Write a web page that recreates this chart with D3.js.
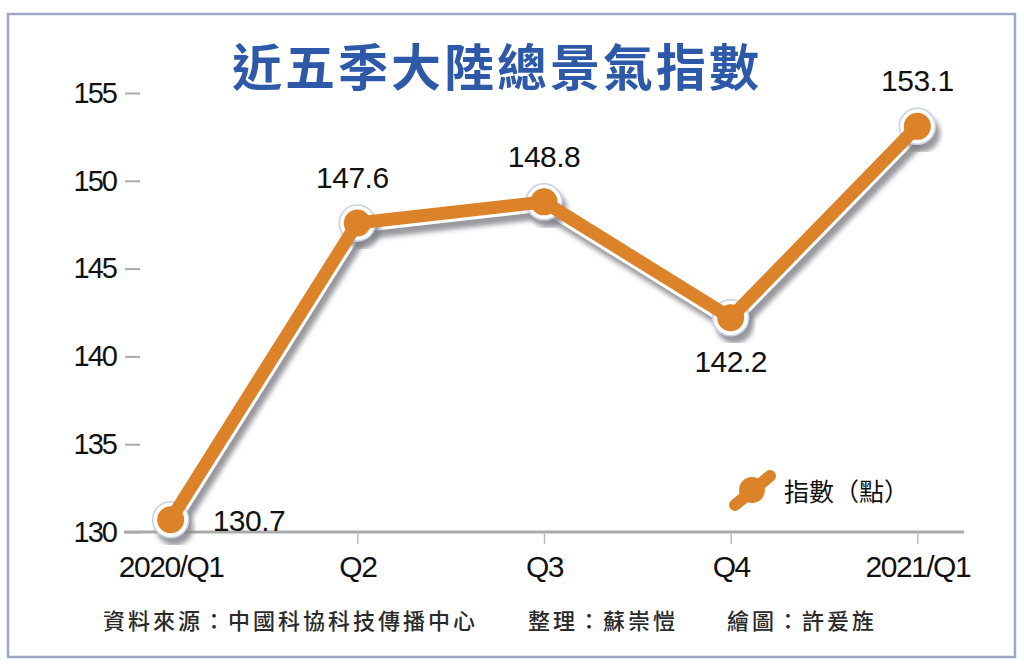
<!DOCTYPE html>
<html lang="zh-Hant">
<head>
<meta charset="UTF-8">
<title>近五季大陸總景氣指數</title>
<style>
    body { margin: 0; background: #fff; }
    svg { display: block; }
    .num { font-family: "Liberation Sans", Arial, sans-serif; fill: #111; }
    .cjk { font-family: "Noto Sans CJK TC", "Noto Sans CJK SC", sans-serif; }
</style>
</head>
<body>
<svg id="chart"></svg>
<script src="https://d3js.org/d3.v7.min.js"></script>
<script>
// 資料
var quarters = ["2020/Q1", "Q2", "Q3", "Q4", "2021/Q1"];
var values = [130.7, 147.6, 148.8, 142.2, 153.1];
var yTicks = [130, 135, 140, 145, 150, 155];
var title = "近五季大陸總景氣指數";
var legendLabel = "指數（點）";
var notes = ["資料來源：中國科協科技傳播中心", "整理：蘇崇愷", "繪圖：許爰旌"];

var width = 1024, height = 667;
var orange = "#dc8228";

var svg = d3.select("#chart").attr("width", width).attr("height", height);

// 陰影
var defs = svg.append("defs");
defs.append("filter").attr("id", "shadow")
    .attr("x", "-20%").attr("y", "-20%").attr("width", "140%").attr("height", "140%")
    .append("feDropShadow")
    .attr("dx", 4).attr("dy", 7).attr("stdDeviation", 2.5)
    .attr("flood-color", "#7d7d85").attr("flood-opacity", 0.8);

// 外框
svg.append("rect")
    .attr("x", 8).attr("y", 14).attr("width", 1007).attr("height", 643)
    .attr("fill", "#fff").attr("stroke", "#9ea6c2").attr("stroke-width", 2.5);

var x = d3.scalePoint().domain(quarters).range([124, 964]).padding(0.25);
var y = d3.scaleLinear().domain([130, 155]).range([532, 93]);

// 標題
svg.append("text").attr("class", "cjk")
    .attr("x", 497).attr("y", 86)
    .attr("text-anchor", "middle")
    .attr("font-size", 50).attr("font-weight", "bold")
    .attr("letter-spacing", 3)
    .attr("fill", "#2e59a8")
    .text(title);

// Y軸
var axisY = d3.axisLeft(y).tickValues(yTicks).tickSize(15).tickPadding(12);
var gy = svg.append("g").attr("transform", "translate(140,0)").call(axisY);
gy.select(".domain").remove();
gy.selectAll(".tick line").attr("stroke", "#aaa").attr("stroke-width", 2).attr("x2", -15).attr("x1", 0);
gy.selectAll(".tick text").attr("class", "num").attr("font-size", 29).attr("fill", "#111")
    .attr("letter-spacing", -2).attr("x", -24);

// X軸
var axisX = d3.axisBottom(x).tickSize(12).tickPadding(12);
var gx = svg.append("g").attr("transform", "translate(0,532)").call(axisX);
gx.select(".domain").attr("d", "M124,0H964").attr("stroke", "#aaa").attr("stroke-width", 3);
gx.selectAll(".tick line").attr("stroke", "#bbb").attr("stroke-width", 1.5)
    .filter(function (d, i) { return i === 0; }).remove();
gx.selectAll(".tick text").attr("class", "num").attr("font-size", 30).attr("fill", "#111")
    .attr("letter-spacing", -1.5);

// 折線
var points = quarters.map(function (q, i) { return [x(q), y(values[i])]; });
var line = d3.line();
var lineG = svg.append("g");
lineG.append("path").attr("d", line(points))
    .attr("fill", "none").attr("stroke", "#fff").attr("stroke-width", 19)
    .attr("stroke-linejoin", "round").attr("filter", "url(#shadow)");
lineG.selectAll("circle.ring").data(points).enter().append("circle")
    .attr("class", "ring")
    .attr("cx", d => d[0]).attr("cy", d => d[1]).attr("r", 18)
    .attr("fill", "#fff").attr("stroke", "#c7d1e3").attr("stroke-width", 1.5)
    .attr("filter", "url(#shadow)");
lineG.append("path").attr("d", line(points))
    .attr("fill", "none").attr("stroke", orange).attr("stroke-width", 13)
    .attr("stroke-linejoin", "round");
lineG.selectAll("circle.dot").data(points).enter().append("circle")
    .attr("class", "dot")
    .attr("cx", d => d[0]).attr("cy", d => d[1]).attr("r", 13.5)
    .attr("fill", orange);

// 數值標籤
svg.selectAll("text.val").data(values).enter().append("text")
    .attr("class", "val num")
    .attr("font-size", 30)
    .attr("letter-spacing", -0.5)
    .attr("fill", "#111")
    .attr("text-anchor", (d, i) => i === 0 ? "start" : "middle")
    .attr("x", (d, i) => i === 0 ? x(quarters[i]) + 42 : x(quarters[i]) - (i === 1 ? 5 : 0))
    .attr("y", function (d, i) {
        if (i === 0) return y(d) + 11;
        if (i === 3) return y(d) + 54;
        return y(d) - 35;
    })
    .text(d => d.toFixed(1));

// 圖例
var lg = svg.append("g").attr("transform", "translate(752,490)");
lg.append("line").attr("x1", -17).attr("y1", 15).attr("x2", 18).attr("y2", -14)
    .attr("stroke", orange).attr("stroke-width", 12).attr("stroke-linecap", "round");
lg.append("circle").attr("r", 13).attr("fill", orange);
svg.append("text").attr("class", "cjk")
    .attr("x", 784).attr("y", 501)
    .attr("font-size", 25).attr("fill", "#111")
    .text(legendLabel);

// 註記
var noteX = [103, 528, 727];
svg.selectAll("text.note").data(notes).enter().append("text")
    .attr("class", "note cjk")
    .attr("x", (d, i) => noteX[i]).attr("y", 629)
    .attr("font-size", 22).attr("letter-spacing", 3)
    .attr("font-weight", 500)
    .attr("fill", "#2a2a2a")
    .text(d => d);
</script>
</body>
</html>
